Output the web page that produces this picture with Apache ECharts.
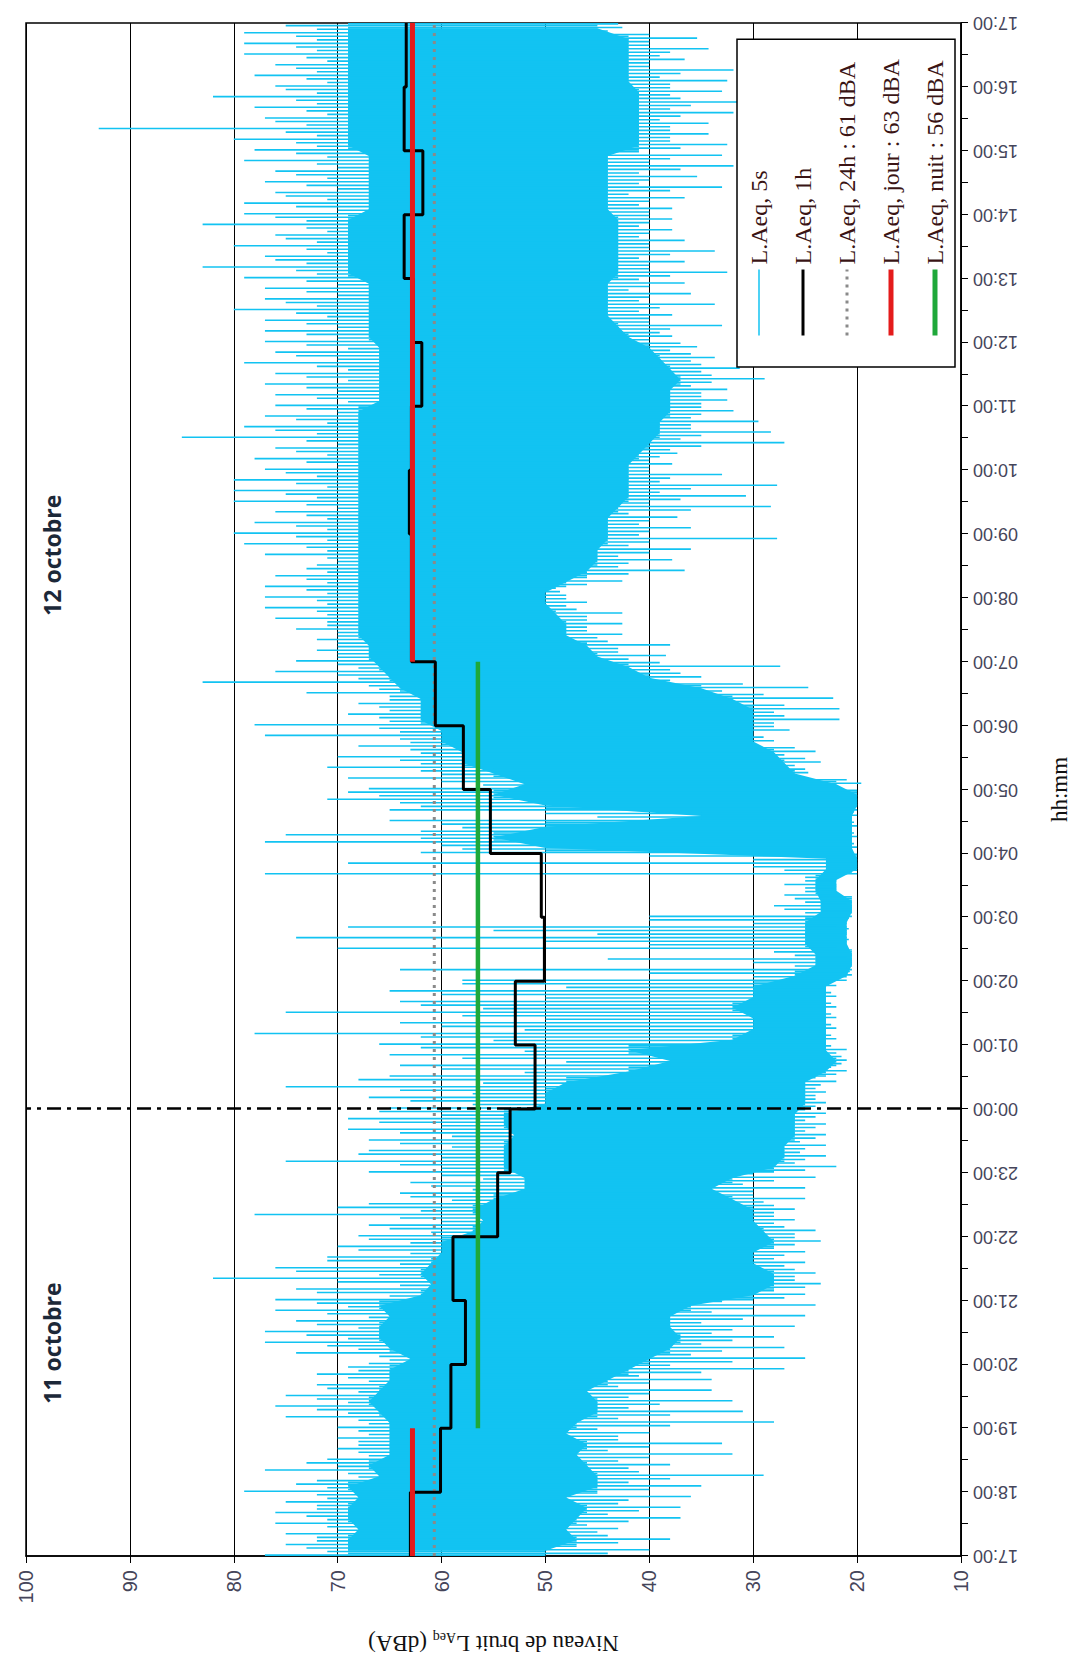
<!DOCTYPE html>
<html><head><meta charset="utf-8">
<script src="https://cdn.jsdelivr.net/npm/echarts@6.0.0/dist/echarts.min.js"></script>
<style>
html,body{margin:0;padding:0;background:#fff;width:1079px;height:1665px;overflow:hidden;}
#chart{position:absolute;left:0;top:0;width:1665px;height:1079px;transform-origin:0 0;transform:translateY(1665px) rotate(-90deg);}
</style></head>
<body><div id="chart"></div>
<script>
// ---- DATA ----
const timeLabels = ['17:00','18:00','19:00','20:00','21:00','22:00','23:00','00:00','01:00','02:00','03:00','04:00','05:00','06:00','07:00','08:00','09:00','10:00','11:00','12:00','13:00','14:00','15:00','16:00','17:00'];
const chunkMinutes = 10; // 5 s trace summarised per 10-minute slice, starting 17:00
// primary upper / lower excursions of L.Aeq,5s in each slice (dBA)
const hiA = [77,75,75,76,76,75,79,72,77,71,70,70,70,75,76,75,72,72,67,74,77,77,74,76,
 76,74,82,76,71,70,68,67,78,67,64,63,67,75,67,67,69,69,65,67,75,65,64,65,
 66,78,64,75,64,65,58,64,44,70,74,69,40,28,27,27,77,69,62,77,62,65,65,71,
 67,69,71,70,68,77,78,69,68,73,83,76,74,72,72,74,76,77,77,77,76,72,77,79,
 80,78,76,80,80,80,77,78,76,85,79,77,76,76,77,76,79,76,77,77,77,80,77,77,
 79,83,77,80,76,83,79,79,76,77,76,79,78,80,93,77,78,82,76,78,76,79,79,79];
const loA = [40,38,43,37,37,36,35,29,38,32,33,40,28,31,32,34,34,27,25,27,28,26,25,24,
 25,23.5,24,25,25,23.5,24,26,26,25,25,24,22,23,23,23,23,23,23,23,22,21,21,21,
 22,22,22,22,22,22,20.5,20.5,20.5,21,21,21,20.5,20.5,22,22,20,20,20,20,20,20,20,20,
 19.6,24.7,23.5,24,28,26.5,21.7,21.7,22.3,24.7,35,27.4,38.4,38,42.6,42.6,42.6,46,48.6,42.6,36.6,37.8,36,27.7,
 36,37.3,28.3,30.7,27.7,33,37.8,37.3,27,28.3,29.5,31.9,32.5,32.5,28.9,31.3,33.7,35.4,37.8,33,37.8,33.7,36,36.6,
 32.5,36.6,33.7,36.6,37.8,37.8,37.8,36.6,33,35.4,31.9,33,32.5,34.3,34.3,31.9,30.7,33,32.5,31.9,36.6,34.3,35.4,42.6];
// secondary excursions
const hiB = [73,72,71,73,72,72,74,69,73,68,68,68,68,72,72,71,69,69,66,71,73,72,71,72,
 72,70,74,71,68,67,65,64,70,63,61,60,64,68,64,64,66,66,63,64,68,60,58,62,
 62,60,58,62,60,58,40,30,28,50,55,40,27,26,25,25,30,40,60,75,60,50,64,69,
 60,62,64,63,64,66,66,66,65,67,70,70,70,70,70,71,72,72,73,73,73,71,73,74,
 74,73,73,75,74,75,73,74,73,76,74,73,72,73,73,72,74,73,73,73,74,75,73,73,
 74,76,73,75,73,76,74,75,73,74,72,74,74,75,76,73,74,75,73,74,73,74,74,75];
const loB = [44,43,45,42,41,42,40,38,42,40,40,43,38,38,39,40,40,35,32,33,32,32,31,30,
 27,25,26,27,27,26,26,28,28,29,30,28,25,25,25,24,24,24,24,24,23.5,22,21.5,22,
 23,23,23,23,23,23,22,21,21,22,22,22,21,21,22.5,22.5,20.5,20.5,20.5,20.5,20.5,20.5,20.5,20.5,
 22,26,26,27,30,30,28,28,30,33,38,38,42,43,45,46,46,48,48,46,42,42,40,40,
 40,40,36,37,36,38,40,39,35,35,36,35,35,35,34,35,36,38,40,38,40,39,40,40,
 38,40,38,40,40,40,40,40,38,40,37,38,37,38,38,37,36,38,38,37,40,38,40,44];
// tertiary excursions (just outside the dense core)
const hiC = [71,72,70,71,72,71,71,68,70,67,68,67,67,69,69,68,67,68,65,68,69,68,67,69,
 65,64,66,64,63,63,61,60,62,59,57,56,60,60,59,59,60,60,57,57,56,52,48,52,
 55,52,50,56,50,48,30,26,26,40,45,30,25,25,25,25,27,30,58,62,58,45,62,66,
 56,60,62,62,63,64,65,65,65,66,68,68,70,70,70,71,71,71,71,71,71,70,71,71,
 71,71,70,72,71,72,70,71,70,72,71,70,69,70,69,69,70,69,70,70,71,72,70,70,
 72,73,71,72,71,73,70,71,70,71,70,71,72,72,73,71,72,72,71,72,71,72,72,72];
const loC = [47,44,46,44,43,45,42,41,43,44,43,45,43,42,42,43,41,38,36,35,34,35,34,33,
 28,26,26,28,28,26,27,28,28,30,31,30,26,25.5,25.5,25,25,25,24,24,24,22.5,21.5,22.5,
 22.5,22.5,22.5,22.5,22.5,22.5,20.7,20.5,20.5,20.8,20.8,20.8,20.5,20.5,22,22,20,20,20.3,20.3,20.3,20.3,20,20,
 21,25,25,26,29,28,27,27,29,31,37,39,43,44,46,46,47,48,49,46,43,43,42,41,
 41,42,40,39,39,40,40,38,37,36,36,35,35,36,34,35,36,37,39,40,41,41,42,41,
 40,41,40,41,41,40,41,42,41,41,40,41,38,38,39,38,37,38,39,40,39,40,40,43];
// dense core band of the 5 s trace
const coreHi = [69,69,68,69,69,68,69,66,67,65,65,65,65,66,67,66,65,65,63,65,66,66,65,66,
 62,61,62,61,60,60,57,56,57,55,52,52,54,54,54,53,54,54,50,50,48,42,38,42,
 32,30,30,32,30,30,26,24,24,25,25,25,23.5,23.5,24,24,23,23,50,55,50,35,50,55,
 52,55,58,58,60,60,62,62,62,64,65,66,67,67,68,68,68,68,68,68,68,68,68,68,
 68,68,68,68,68,68,68,68,68,68,68,68,66,66,66,66,66,66,67,67,67,67,67,67,
 69,69,69,69,69,69,67,67,67,67,67,67,69,69,69,69,69,69,69,69,69,69,69,69];
const coreLo = [50,47,48,47,46,48,45,45,46,47,46,48,47,45,45,46,44,42,40,38,37,38,38,36,
 30,28,28,30,30,28,29,30,30,32,34,32,28,27,27,26,26,26,25,25,25,23,22,23,
 23,23,23,23,23,23,21,20.5,20.5,21,21,21,20.5,20.5,22,22,20,20,20.5,20.5,20.5,20.5,20,20,
 22,26,27,28,30,30,30,30,32,35,40,42,45,46,48,48,49,50,50,48,46,45,45,44,
 44,44,43,42,42,42,42,41,40,39,39,38,38,38,37,38,39,40,42,43,44,44,44,44,
 43,43,43,43,43,43,44,44,44,44,44,44,41,41,41,41,41,41,42,42,42,42,42,45];
// hourly L.Aeq,1h (17:00 ... 16:00)
const leq1h = [63.0,60.1,59.1,57.7,58.9,54.6,53.4,51.0,52.9,50.1,50.4,55.3,57.9,60.6,62.9,62.9,63.1,62.9,61.9,62.7,63.6,61.8,63.6,63.4];
const leq24h = 60.7, leqJour = 62.8, leqNuit = 56.5;
const jourPeriods = [[0,120],[840,1440]];   // minutes after 17:00
const nuitPeriods = [[120,840]];
const midnight = 420;
const legendNames = ['L.Aeq, 5s','L.Aeq, 1h','L.Aeq, 24h : 61 dBA','L.Aeq, jour : 63 dBA','L.Aeq, nuit : 56 dBA'];
const dayLabels = [{text:'11 octobre', t:200},{text:'12 octobre', t:940}];

// ---- BUILD ----
const BLUE = '#12C3F2';
const segs = [];
const sub = chunkMinutes / 6;
for (let i = 0; i < hiA.length; i++) {
  const t = i * chunkMinutes;
  const pairs = [[coreLo[i], hiA[i]], [loB[i], coreHi[i]], [coreLo[i], hiC[i]],
                 [loA[i], coreHi[i]], [coreLo[i], hiB[i]], [loC[i], coreHi[i]]];
  pairs.forEach((p, k) => segs.push([t + (k + 0.5) * sub, Math.min(p[0], p[1]), Math.max(p[0], p[1])]));
}
const stepData = leq1h.map((v, h) => [h * 60, v]).concat([[1440, leq1h[leq1h.length - 1]]]);
function periodLine(periods, v) {
  const out = [];
  periods.forEach((p, k) => { if (k > 0) out.push([(periods[k-1][1] + p[0]) / 2, '-']); out.push([p[0], v], [p[1], v]); });
  return out;
}
const chart = echarts.init(document.getElementById('chart'), null, {renderer: 'svg', width: 1665, height: 1079});
const grid = {left: 109, right: 23, top: 26, bottom: 118};
chart.setOption({
  animation: false,
  backgroundColor: '#fff',
  grid: Object.assign({show: true, borderColor: '#000', borderWidth: 1.5, backgroundColor: 'transparent'}, grid),
  legend: {
    orient: 'vertical', left: 1298, top: 737,
    padding: [10, 20, 8, 29], itemWidth: 66, itemHeight: 20, itemGap: 20,
    backgroundColor: '#fff', borderColor: '#000', borderWidth: 1.5, borderRadius: 0,
    itemStyle: {opacity: 0},
    textStyle: {fontFamily: 'Liberation Serif', fontSize: 24, color: '#3a1414'},
    data: [
      {name: legendNames[0], lineStyle: {width: 1.5}},
      {name: legendNames[1], lineStyle: {width: 3}},
      {name: legendNames[2], lineStyle: {width: 3}},
      {name: legendNames[3], lineStyle: {width: 5}},
      {name: legendNames[4], lineStyle: {width: 5}}
    ]
  },
  xAxis: {
    type: 'value', min: 0, max: 1440, interval: 60,
    name: 'hh:mm', nameLocation: 'middle', nameGap: 87,
    nameTextStyle: {fontFamily: 'Liberation Serif', fontSize: 23, color: '#111'},
    axisLine: {show: true, lineStyle: {color: '#000', width: 1.5}},
    axisTick: {show: true, length: 7, lineStyle: {color: '#000', width: 1}},
    minorTick: {show: true, splitNumber: 2, length: 7, lineStyle: {color: '#000', width: 1}},
    splitLine: {show: false},
    axisLabel: {rotate: 90, margin: 12, fontFamily: 'Liberation Sans', fontSize: 18, color: '#45455a',
      formatter: v => timeLabels[Math.round(v / 60)]}
  },
  yAxis: {
    type: 'value', min: 10, max: 100, interval: 10,
    name: 'Niveau de bruit L{sub|Aeq} (dBA)', nameLocation: 'middle', nameGap: 74,
    nameTextStyle: {fontFamily: 'Liberation Serif', fontSize: 23, color: '#111',
      rich: {sub: {fontFamily: 'Liberation Serif', fontSize: 14, color: '#111', padding: [12, 0, 0, 0]}}},
    axisLine: {show: true, lineStyle: {color: '#000', width: 1.5}},
    axisTick: {show: true, length: 7, lineStyle: {color: '#000', width: 1}},
    splitLine: {show: true, lineStyle: {color: '#000', width: 1}},
    axisLabel: {margin: 14, fontFamily: 'Liberation Sans', fontSize: 20, color: '#45455a'}
  },
  graphic: dayLabels.map(d => ({
    type: 'text', z: 10,
    x: grid.left + d.t / 1440 * (1665 - grid.left - grid.right), y: 52,
    style: {text: d.text, font: 'bold 23px "Open Sans"', fill: '#1c2838', textAlign: 'center', textVerticalAlign: 'middle'}
  })),
  series: [
    { // legend swatch for the 5 s trace
      type: 'line', name: legendNames[0], data: [], symbol: 'none',
      lineStyle: {color: BLUE, width: 1.5}, itemStyle: {color: BLUE}
    },
    {
      type: 'custom', name: 'core', silent: true, z: 1, clip: true,
      data: [[0, coreLo[0]]],
      renderItem: (params, api) => {
        const pts = [];
        for (let i = 0; i < coreHi.length; i++) pts.push(api.coord([i * chunkMinutes + 5, coreHi[i]]));
        for (let i = coreLo.length - 1; i >= 0; i--) pts.push(api.coord([i * chunkMinutes + 5, coreLo[i]]));
        return {type: 'polygon', shape: {points: pts}, style: {fill: BLUE}};
      }
    },
    {
      type: 'custom', name: legendNames[0], silent: true, z: 2, clip: true,
      encode: {x: 0, y: [1, 2]},
      data: segs,
      renderItem: (params, api) => {
        const a = api.coord([api.value(0), api.value(1)]);
        const b = api.coord([api.value(0), api.value(2)]);
        return {type: 'line', shape: {x1: a[0], y1: a[1], x2: b[0], y2: b[1]}, style: {stroke: BLUE, lineWidth: 1.6}};
      }
    },
    {
      type: 'line', name: legendNames[2], data: [[0, leq24h], [1440, leq24h]], symbol: 'none', z: 3,
      lineStyle: {color: '#8a8a8a', width: 3, type: [3, 5]}, itemStyle: {color: '#8a8a8a'}
    },
    {
      type: 'line', name: legendNames[1], data: stepData, step: 'end', symbol: 'none', z: 4,
      lineStyle: {color: '#000', width: 3}, itemStyle: {color: '#000'}
    },
    {
      type: 'line', name: legendNames[4], data: periodLine(nuitPeriods, leqNuit), symbol: 'none', z: 5,
      lineStyle: {color: '#1fa83a', width: 4.5}, itemStyle: {color: '#1fa83a'}
    },
    {
      type: 'line', name: legendNames[3], data: periodLine(jourPeriods, leqJour), symbol: 'none', z: 6,
      lineStyle: {color: '#e41b1b', width: 5}, itemStyle: {color: '#e41b1b'},
      markLine: {silent: true, symbol: 'none', label: {show: false},
        lineStyle: {color: '#000', width: 2.5, type: [14, 6, 4, 6]},
        data: [{xAxis: midnight}]}
    }
  ]
});
</script></body></html>
